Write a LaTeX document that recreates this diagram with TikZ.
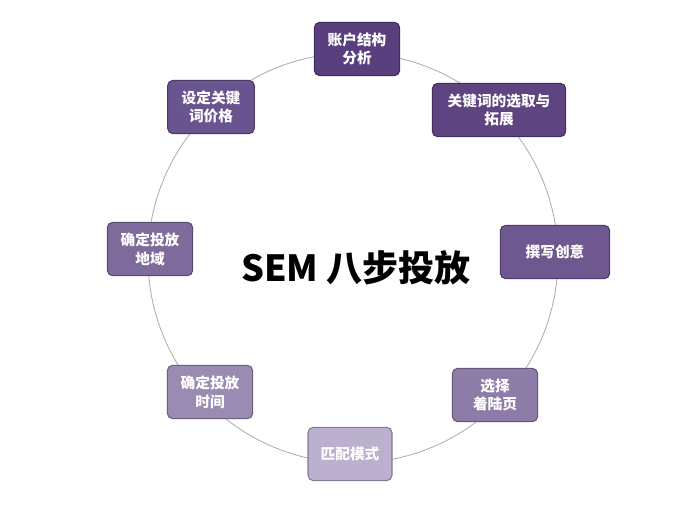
\documentclass[tikz,border=0pt]{standalone}
\usepackage{fontspec}
\newfontfamily\cjk{Noto Sans CJK SC}
\usetikzlibrary{positioning}
\definecolor{stepA}{HTML}{5A3F7E}
\definecolor{stepB}{HTML}{5E4480}
\definecolor{stepC}{HTML}{6F5790}
\definecolor{stepD}{HTML}{8E7CA8}
\definecolor{stepE}{HTML}{BCB0CF}
\definecolor{stepF}{HTML}{9A8BB3}
\definecolor{stepG}{HTML}{7E6B9C}
\definecolor{stepH}{HTML}{6A5490}
\tikzset{
  step/.style={draw=#1!70!black, fill=#1, rounded corners=4pt, line width=0.8pt,
    text=white, font=\cjk\bfseries\fontsize{11}{14}\selectfont, align=center,
    minimum height=40pt, inner sep=2pt}
}
\begin{document}
\begin{tikzpicture}[x=0.75pt,y=0.75pt,yscale=-1,xscale=1]
\useasboundingbox (0,0) rectangle (688,508);

%Circle
\draw [color={rgb, 255:red, 170; green, 170; blue, 170 }, line width=0.6pt] (353,258) circle [radius=205];

% Step nodes
\node [step=stepA, minimum width=64pt] (acct) at (357,49) {账户结构\\分析};
\node [step=stepB, minimum width=100pt] (kw) at (499,110) {关键词的选取与\\拓展};
\node [step=stepC, minimum width=82pt] (ad) at (555,252) {撰写创意};
\node [step=stepD, minimum width=64pt] (land) at (495,395) {选择\\着陆页};
\node [step=stepE, minimum width=63pt] (match) at (350,454) {匹配模式};
\node [step=stepF, minimum width=64pt] (time) at (210,392) {确定投放\\时间};
\node [step=stepG, minimum width=64pt] (area) at (150,249) {确定投放\\地域};
\node [step=stepH, minimum width=65pt] (price) at (211,107) {设定关键\\词价格};

% Title
\node [font=\cjk\bfseries\fontsize{27}{32}\selectfont] (title) at (356,268) {SEM 八步投放};
\end{tikzpicture}
\end{document}
